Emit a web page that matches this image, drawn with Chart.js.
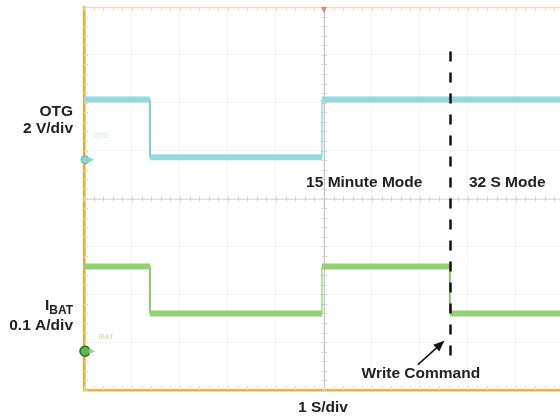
<!DOCTYPE html>
<html>
<head>
<meta charset="utf-8">
<script src="https://cdn.jsdelivr.net/npm/chart.js@4/dist/chart.umd.min.js"></script>
<style>
html,body{margin:0;padding:0;background:#fff;overflow:hidden;}
#wrap{width:560px;height:417px;}
</style>
</head>
<body>
<div id="wrap"><canvas id="c" width="560" height="417"></canvas></div>
<script>
// Time in divisions (1 S/div), levels in vertical divisions
const otgTimes = [0, 1.375, 4.96, 9.92];
const otgLevels = [2.07, 0.86, 2.07];
const ibatTimes = [0, 1.375, 4.96, 7.625, 9.92];
const ibatLevels = [-1.42, -2.40, -1.42, -2.40];
const otgGround = 0.81;
const ibatGround = -3.19;
const writeCommandTime = 7.625;
const modeLabels = ["15 Minute Mode", "32 S Mode"];
const channelLabels = [["OTG", "2 V/div"], ["I", "BAT", "0.1 A/div"]];
const timeLabel = "1 S/div";
const writeLabel = "Write Command";

function edgePoints(times, levels){
  const pts = [];
  for(let i=0;i<levels.length;i++){
    pts.push({x:times[i], y:levels[i]});
    pts.push({x:times[i+1], y:levels[i]});
  }
  return pts;
}
function bandPoints(times, levels){
  const pts = [];
  for(let i=0;i<levels.length;i++){
    pts.push({x:times[i], y:levels[i]});
    pts.push({x:times[i+1], y:levels[i]});
    pts.push({x:times[i+1], y:null});
  }
  return pts;
}

const FONT = 'bold 15.5px "Liberation Sans", Arial, sans-serif';

const overlay = {
  id:'overlay',
  beforeDatasetsDraw(chart){
    const {ctx, chartArea:a, scales:{x,y}} = chart;
    ctx.save();
    const cx = x.getPixelForValue(5), cy = y.getPixelForValue(0);
    ctx.strokeStyle = '#c4c4c4'; ctx.lineWidth = 1;
    ctx.beginPath(); ctx.moveTo(Math.round(cx)+0.5, a.top); ctx.lineTo(Math.round(cx)+0.5, a.bottom); ctx.stroke();
    ctx.strokeStyle = '#eed6d6';
    ctx.beginPath(); ctx.moveTo(a.left, Math.round(cy)+0.5); ctx.lineTo(a.right, Math.round(cy)+0.5); ctx.stroke();
    for(let t=0;t<=10;t+=0.2){
      const px = Math.round(x.getPixelForValue(t))+0.5;
      if(px>a.right) break;
      ctx.strokeStyle = '#d8cccc';
      ctx.beginPath(); ctx.moveTo(px, cy-2); ctx.lineTo(px, cy+3); ctx.stroke();
      ctx.strokeStyle = '#f0d4c4';
      ctx.beginPath(); ctx.moveTo(px, a.top); ctx.lineTo(px, a.top+4); ctx.stroke();
      ctx.strokeStyle = '#e8dcc8';
      ctx.beginPath(); ctx.moveTo(px, a.bottom-4); ctx.lineTo(px, a.bottom); ctx.stroke();
    }
    for(let v=-4;v<=4;v+=0.2){
      const py = Math.round(y.getPixelForValue(v))+0.5;
      ctx.strokeStyle = '#d0d0d0';
      ctx.beginPath(); ctx.moveTo(cx-2, py); ctx.lineTo(cx+3, py); ctx.stroke();
      ctx.strokeStyle = '#efd0b8';
      ctx.beginPath(); ctx.moveTo(a.left, py); ctx.lineTo(a.left+4, py); ctx.stroke();
    }
    ctx.strokeStyle = '#f6d6c0'; ctx.lineWidth = 1.5;
    ctx.beginPath(); ctx.moveTo(a.left, a.top+0.5); ctx.lineTo(a.right, a.top+0.5); ctx.stroke();
    ctx.fillStyle = '#f08080';
    ctx.beginPath(); ctx.moveTo(cx-3, a.top); ctx.lineTo(cx+3, a.top); ctx.lineTo(cx, a.top+6); ctx.closePath(); ctx.fill();
    ctx.font = '7px "Liberation Sans", Arial, sans-serif';
    ctx.textAlign = 'left'; ctx.textBaseline = 'middle';
    ctx.fillStyle = '#c0e2e8';
    ctx.fillText('OTG', x.getPixelForValue(0.2), y.getPixelForValue(otgGround)-24);
    ctx.fillStyle = '#bedca8';
    ctx.fillText('IBAT', x.getPixelForValue(0.3), y.getPixelForValue(ibatGround)-14);
    ctx.restore();
  },
  afterDatasetsDraw(chart){
    const {ctx, chartArea:a, scales:{x,y}} = chart;
    ctx.save();
    const gx = a.left+1;
    let gy = y.getPixelForValue(otgGround);
    ctx.fillStyle = '#8fd4cc'; ctx.strokeStyle = '#5fb8b0'; ctx.lineWidth = 1;
    ctx.beginPath(); ctx.arc(gx, gy, 4, 0, Math.PI*2); ctx.fill(); ctx.stroke();
    ctx.beginPath(); ctx.moveTo(gx+3, gy-3); ctx.lineTo(gx+9, gy); ctx.lineTo(gx+3, gy+3); ctx.fill();
    gy = y.getPixelForValue(ibatGround);
    ctx.fillStyle = '#5cb848'; ctx.strokeStyle = '#2d6a24'; ctx.lineWidth = 1.5;
    ctx.beginPath(); ctx.arc(gx, gy, 5, 0, Math.PI*2); ctx.fill(); ctx.stroke();
    ctx.fillStyle = '#9ad08a';
    ctx.beginPath(); ctx.moveTo(gx+4, gy-3); ctx.lineTo(gx+10, gy); ctx.lineTo(gx+4, gy+3); ctx.fill();
    const wx = Math.round(x.getPixelForValue(writeCommandTime))+0.5;
    ctx.strokeStyle = '#111'; ctx.lineWidth = 2.5; ctx.setLineDash([10,11]);
    ctx.beginPath(); ctx.moveTo(wx, y.getPixelForValue(3.07)); ctx.lineTo(wx, y.getPixelForValue(-3.40)); ctx.stroke();
    ctx.setLineDash([]);
    const ax0 = x.getPixelForValue(6.96), ay0 = y.getPixelForValue(-3.47);
    const ax1 = x.getPixelForValue(7.48), ay1 = y.getPixelForValue(-3.0);
    ctx.lineWidth = 1.5;
    ctx.beginPath(); ctx.moveTo(ax0, ay0); ctx.lineTo(ax1, ay1); ctx.stroke();
    const ang = Math.atan2(ay1-ay0, ax1-ax0);
    ctx.fillStyle = '#111';
    ctx.beginPath();
    ctx.moveTo(ax1+2*Math.cos(ang), ay1+2*Math.sin(ang));
    ctx.lineTo(ax1-9*Math.cos(ang)+4.5*Math.sin(ang), ay1-9*Math.sin(ang)-4.5*Math.cos(ang));
    ctx.lineTo(ax1-9*Math.cos(ang)-4.5*Math.sin(ang), ay1-9*Math.sin(ang)+4.5*Math.cos(ang));
    ctx.closePath(); ctx.fill();
    ctx.fillStyle = '#222';
    ctx.font = FONT;
    ctx.textAlign = 'center'; ctx.textBaseline = 'middle';
    ctx.fillText(modeLabels[0], x.getPixelForValue(5.84), y.getPixelForValue(0.33));
    ctx.fillText(modeLabels[1], x.getPixelForValue(8.82), y.getPixelForValue(0.33));
    ctx.fillText(writeLabel, x.getPixelForValue(7.02), y.getPixelForValue(-3.67));
    ctx.fillText(timeLabel, x.getPixelForValue(4.98), a.bottom+18);
    ctx.textAlign = 'right';
    const lx = a.left - 11;
    ctx.fillText(channelLabels[0][0], lx, 112);
    ctx.fillText(channelLabels[0][1], lx, 129);
    ctx.fillText(channelLabels[1][2], lx, 326);
    ctx.font = 'bold 12px "Liberation Sans", Arial, sans-serif';
    const subW = ctx.measureText(channelLabels[1][1]).width;
    ctx.fillText(channelLabels[1][1], lx, 311);
    ctx.font = FONT;
    ctx.fillText(channelLabels[1][0], lx - subW, 306);
    ctx.restore();
  }
};

new Chart(document.getElementById('c'), {
  type:'line',
  data:{
    datasets:[
      {data:bandPoints(otgTimes, otgLevels), borderColor:'#95d8de', borderWidth:6, pointRadius:0, spanGaps:false, tension:0},
      {data:bandPoints(otgTimes, otgLevels), borderColor:'#66c2cc', borderWidth:2, pointRadius:0, spanGaps:false, tension:0},
      {data:edgePoints(otgTimes, otgLevels), borderColor:'#6cc6cf', borderWidth:1, pointRadius:0, tension:0},
      {data:bandPoints(ibatTimes, ibatLevels), borderColor:'#92d272', borderWidth:6, pointRadius:0, spanGaps:false, tension:0},
      {data:bandPoints(ibatTimes, ibatLevels), borderColor:'#68be42', borderWidth:2, pointRadius:0, spanGaps:false, tension:0},
      {data:edgePoints(ibatTimes, ibatLevels), borderColor:'#78c455', borderWidth:1, pointRadius:0, tension:0}
    ]
  },
  options:{
    responsive:false,
    animation:false,
    events:[],
    layout:{padding:{left:84, top:7, right:0, bottom:27}},
    plugins:{legend:{display:false}, tooltip:{enabled:false}},
    scales:{
      x:{type:'linear', min:0, max:9.92,
         ticks:{display:false, stepSize:1},
         grid:{color:'rgba(200,200,200,0.22)', drawTicks:false},
         border:{display:true, color:'#f0b040', width:2.5}},
      y:{type:'linear', min:-4, max:4,
         ticks:{display:false, stepSize:1},
         grid:{color:'rgba(200,200,200,0.22)', drawTicks:false},
         border:{display:true, color:'#f5a623', width:2.5}}
    }
  },
  plugins:[overlay]
});
</script>
</body>
</html>
